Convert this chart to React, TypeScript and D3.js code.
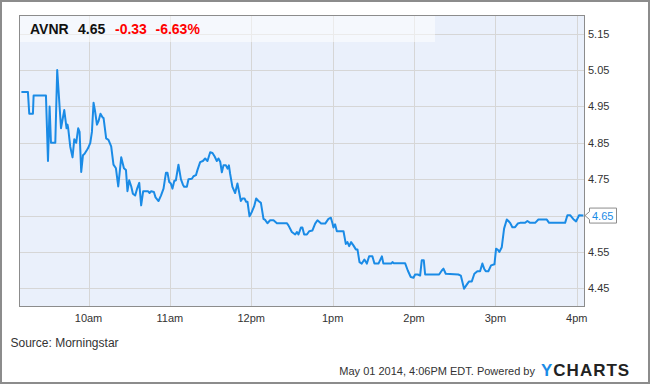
import React from "react";
import * as d3 from "d3";

// minutes since 9:00
const times = [10.5,15.3,16.3,19.0,19.5,28.6,30.1,31.3,32.3,35.5,36.9,39.7,42.1,43.8,44.5,45.0,46.5,48.2,49.5,50.9,52.4,53.4,54.6,55.9,57.1,58.8,59.6,61.3,62.5,63.7,64.7,66.2,67.4,68.8,70.3,71.1,73.0,74.7,76.7,78.4,80.2,81.9,84.1,86.1,87.6,88.7,90.0,91.5,92.7,94.4,95.9,97.4,98.8,100.3,103.8,105.0,106.2,108.2,109.4,111.6,113.4,115.3,117.1,118.2,119.5,120.7,121.9,123.2,124.4,126.3,128.1,129.6,130.5,132.5,133.7,136.2,137.4,139.2,140.3,142.3,144.3,146.0,147.7,149.7,151.4,152.9,154.6,155.8,157.1,158.3,159.5,161.3,162.5,163.5,164.4,166.1,168.1,169.8,172.3,173.5,175.0,176.2,177.2,178.7,180.4,182.1,183.6,185.3,187.1,189.0,190.2,191.9,193.9,196.4,198.9,206.2,207.4,209.9,212.4,213.6,214.8,216.6,217.7,219.0,221.0,222.7,225.1,227.1,228.8,231.5,234.5,236.9,238.7,239.9,240.6,241.8,243.1,248.0,249.7,250.9,252.2,253.6,255.3,257.1,258.3,259.8,261.5,263.4,265.2,266.9,269.3,270.8,273.8,276.3,277.4,283.1,284.1,285.1,293.4,295.4,297.6,299.6,300.8,302.8,304.5,305.7,307.2,308.2,318.5,320.5,321.7,323.4,332.7,334.5,336.9,338.9,340.6,342.6,344.5,346.7,348.7,350.4,351.7,352.9,354.8,356.8,359.3,360.5,361.8,362.9,364.7,366.4,368.4,369.6,370.8,372.5,374.5,376.5,378.2,381.9,383.6,385.6,389.3,391.7,397.9,399.6,411.4,413.1,415.1,417.5,419.5,421.7,424.9];
const prices = [4.99,4.99,4.93,4.93,4.98,4.98,4.80,4.95,4.85,4.85,5.05,4.89,4.94,4.89,4.90,4.89,4.84,4.81,4.86,4.85,4.89,4.88,4.77,4.816,4.82,4.83,4.835,4.85,4.88,4.96,4.94,4.90,4.91,4.93,4.92,4.918,4.862,4.858,4.84,4.79,4.78,4.73,4.81,4.78,4.775,4.717,4.747,4.73,4.71,4.705,4.725,4.74,4.678,4.717,4.717,4.712,4.717,4.715,4.70,4.69,4.705,4.724,4.768,4.768,4.742,4.738,4.724,4.745,4.747,4.79,4.75,4.735,4.729,4.729,4.75,4.751,4.758,4.761,4.775,4.797,4.80,4.807,4.80,4.824,4.822,4.813,4.80,4.807,4.798,4.769,4.788,4.788,4.779,4.788,4.765,4.729,4.712,4.738,4.69,4.697,4.697,4.688,4.688,4.648,4.66,4.675,4.697,4.69,4.685,4.641,4.638,4.629,4.637,4.637,4.629,4.629,4.623,4.605,4.598,4.605,4.598,4.617,4.617,4.598,4.598,4.607,4.609,4.628,4.637,4.628,4.628,4.641,4.644,4.628,4.617,4.626,4.607,4.607,4.572,4.577,4.566,4.577,4.568,4.557,4.557,4.522,4.518,4.529,4.518,4.538,4.538,4.518,4.518,4.538,4.518,4.518,4.522,4.519,4.519,4.499,4.481,4.479,4.488,4.488,4.485,4.527,4.527,4.488,4.488,4.499,4.504,4.49,4.488,4.485,4.449,4.46,4.469,4.469,4.49,4.497,4.497,4.518,4.504,4.497,4.497,4.513,4.516,4.559,4.556,4.55,4.563,4.614,4.639,4.635,4.63,4.618,4.618,4.628,4.63,4.63,4.635,4.63,4.63,4.639,4.639,4.63,4.63,4.651,4.651,4.64,4.634,4.651,4.65];

const xTickMinutes = [60, 120, 180, 240, 300, 360, 420];
const xTickLabels = ["10am", "11am", "12pm", "1pm", "2pm", "3pm", "4pm"];
const yTicks = [4.45, 4.55, 4.65, 4.75, 4.85, 4.95, 5.05, 5.15];

const ticker = "AVNR";
const lastPrice = "4.65";
const change = "-0.33";
const changePct = "-6.63%";
const sourceText = "Source: Morningstar";
const footerText = "May 01 2014, 4:06PM EDT. Powered by";

const W = 650, H = 384;
const L = 19.5, R = 584.5, T = 15.5, B = 306.5;
const FONT = "Arial, 'Liberation Sans', sans-serif";

export default function App() {
  const x = d3.scaleLinear().domain([9.1, 425.7]).range([L, R]);
  const y = d3.scaleLinear().domain([4.4, 5.2]).range([B, T]);
  const data = times.map((t, i) => ({ t, v: prices[i] }));
  const line = d3.line<{ t: number; v: number }>().x(d => x(d.t)).y(d => y(d.v));
  const last = data[data.length - 1];
  const ly = y(last.v);
  const snap = (v: number) => Math.round(v) + 0.5;
  // tick labels hidden behind the last-price tag are not drawn
  const visibleYTicks = yTicks.filter(v => Math.abs(y(v) - ly) > 12);

  return (
    <svg width={W} height={H} style={{ position: "absolute", left: 0, top: 0 }} fontFamily={FONT}>
      <rect x={0} y={0} width={W} height={H} fill="#fff" />
      <rect x={1} y={1} width={W - 2} height={H - 2} fill="none" stroke="#8c8c8c" strokeWidth={2} />
      <defs>
        <clipPath id="plotclip"><rect x={L} y={T} width={R - L} height={B - T} /></clipPath>
      </defs>
      <rect x={L} y={T} width={R - L} height={B - T} fill="#eaf0fb" />
      {xTickMinutes.map((m, i) => (
        <line key={"gx" + i} x1={snap(x(m))} x2={snap(x(m))} y1={T} y2={B} stroke="#d6d6d6" strokeWidth={1} />
      ))}
      {yTicks.map((v, i) => (
        <line key={"gy" + i} x1={L} x2={R} y1={snap(y(v))} y2={snap(y(v))} stroke="#d6d6d6" strokeWidth={1} />
      ))}
      <path d={line(data) || ""} fill="none" stroke="#1a8be6" strokeWidth={2} strokeLinejoin="round" clipPath="url(#plotclip)" />
      <rect x={L} y={T} width={435 - L} height={42 - T} fill="#ffffff" opacity={0.5} />
      <rect x={L} y={T} width={R - L} height={B - T} fill="none" stroke="#8c8c8c" strokeWidth={1} />
      <text x={30} y={33.5} fontSize={14} fontWeight="bold" fill="#111">{ticker}</text>
      <text x={78} y={33.5} fontSize={14} fontWeight="bold" fill="#111">{lastPrice}</text>
      <text x={115} y={33.5} fontSize={14} fontWeight="bold" fill="#ff0000">{change}</text>
      <text x={155.5} y={33.5} fontSize={14} fontWeight="bold" fill="#ff0000">{changePct}</text>
      {visibleYTicks.map((v, i) => (
        <text key={"ty" + i} x={588} y={y(v) + 4} fontSize={11} fill="#333">{v.toFixed(2)}</text>
      ))}
      {xTickMinutes.map((m, i) => (
        <text key={"tx" + i} x={x(m)} y={322} fontSize={11} textAnchor="middle" fill="#333">{xTickLabels[i]}</text>
      ))}
      <path d={`M${R + 0.5},${ly} L${589.5},${ly - 4} V${ly - 7.5} H${616.5} V${ly + 7.5} H${589.5} V${ly + 4} Z`} fill="#fff" stroke="#8c8c8c" strokeWidth={1} />
      <text x={592} y={ly + 4} fontSize={11} fill="#1a8be6">{lastPrice}</text>
      <text x={10.5} y={347} fontSize={12} fill="#333">{sourceText}</text>
      <text x={535} y={375} fontSize={11} textAnchor="end" fill="#333">{footerText}</text>
      <text x={541} y={376} fontSize={17} fontWeight="bold" letterSpacing={1}>
        <tspan fill="#1a8be6">Y</tspan><tspan fill="#222">CHARTS</tspan>
      </text>
    </svg>
  );
}
